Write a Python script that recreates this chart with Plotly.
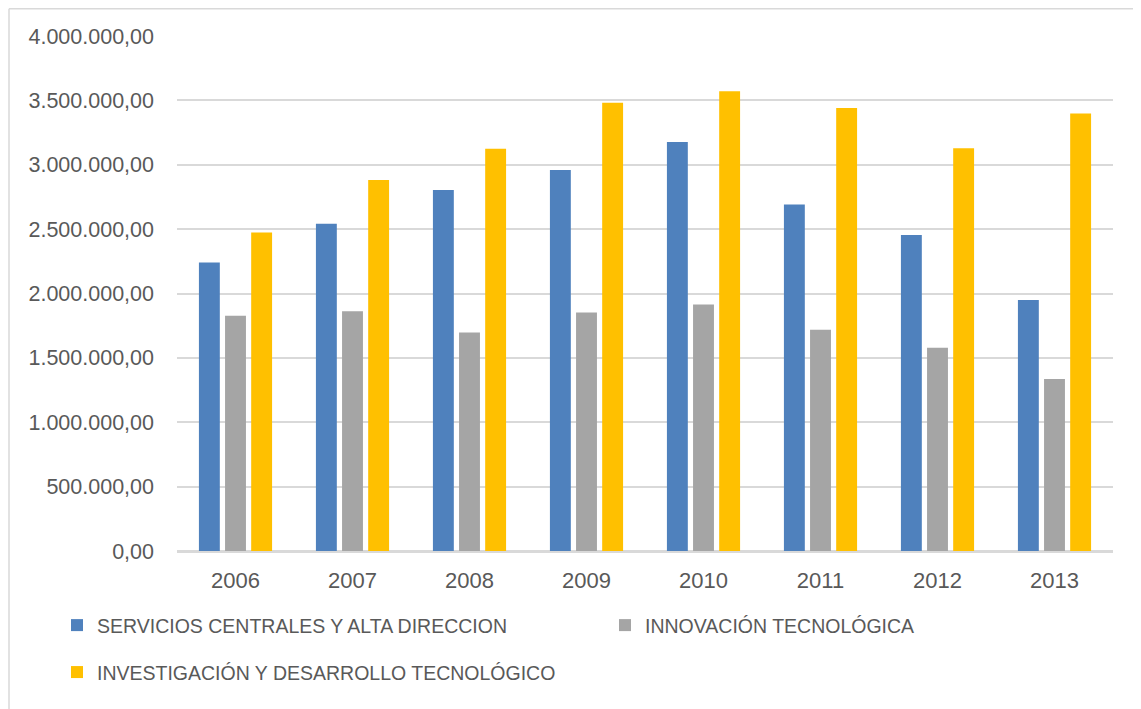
import plotly.graph_objects as go

years = ["2006", "2007", "2008", "2009", "2010", "2011", "2012", "2013"]
servicios = [2240000, 2541000, 2804000, 2960000, 3177000, 2691000, 2455000, 1949000]
innovacion = [1827000, 1863000, 1698000, 1853000, 1915000, 1718000, 1579000, 1336000]
investigacion = [2473000, 2882000, 3125000, 3482000, 3570000, 3441000, 3128000, 3399000]

names = ["SERVICIOS CENTRALES Y ALTA DIRECCION", "INNOVACIÓN TECNOLÓGICA",
         "INVESTIGACIÓN Y DESARROLLO TECNOLÓGICO"]
colors = ["#4F81BD", "#A5A5A5", "#FFC000"]
series = [servicios, innovacion, investigacion]
legends = ["legend", "legend2", "legend3"]

OFF = 8  # page body margin
W, H = 1141 - OFF, 709 - OFF
L, R, T, B = 177 - OFF, 28, 36 - OFF, 157.5
pw = W - L - R
ph = H - T - B

def px_x(p):
    return (p - OFF - L) / pw

def px_y(p):
    return (H - B - (p - OFF)) / ph

fig = go.Figure()
for nm, vals, col, lg in zip(names, series, colors, legends):
    fig.add_trace(go.Bar(x=years, y=vals, name=nm, marker=dict(color=col, line=dict(width=0)),
                         legend=lg, showlegend=True))

TXT = "#595959"
legfont = dict(family="Liberation Sans, Arial, sans-serif", size=19.5, color=TXT)
common_leg = dict(orientation="h", xanchor="left", yanchor="middle", font=legfont,
                  bgcolor="rgba(0,0,0,0)", borderwidth=0, visible=True)

fig.update_layout(
    width=W, height=H,
    margin=dict(l=L, r=R, t=T, b=B, pad=0),
    paper_bgcolor="white", plot_bgcolor="white",
    separators=",.",
    showlegend=True,
    barmode="group", bargap=0.33, bargroupgap=0.2,
    font=dict(family="Liberation Sans, Arial, sans-serif", color=TXT),
    legend=dict(x=px_x(57), y=px_y(626), **common_leg),
    legend2=dict(x=px_x(605), y=px_y(626), **common_leg),
    legend3=dict(x=px_x(57), y=px_y(673), **common_leg),
    xaxis=dict(showgrid=False, showline=True, linecolor="#D9D9D9", linewidth=1.5,
               ticks="", tickfont=dict(size=22, color=TXT), ticklabelstandoff=9),
    yaxis=dict(range=[0, 4000000], dtick=500000, tickformat=",.2f",
               showgrid=True, gridcolor="#D9D9D9", gridwidth=1.5,
               zeroline=True, zerolinecolor="#D9D9D9", zerolinewidth=1.5,
               showline=False, ticks="", tickfont=dict(size=21.5, color=TXT),
               ticklabelstandoff=22),
    shapes=[
        dict(type="line", xref="paper", yref="paper", x0=px_x(9), x1=px_x(1150),
             y0=px_y(8.75), y1=px_y(8.75), line=dict(color="#D9D9D9", width=1.5)),
        dict(type="line", xref="paper", yref="paper", x0=px_x(9), x1=px_x(9),
             y0=px_y(8.75), y1=px_y(720), line=dict(color="#D9D9D9", width=1.5)),
    ],
)

fig.write_html("out.html")
